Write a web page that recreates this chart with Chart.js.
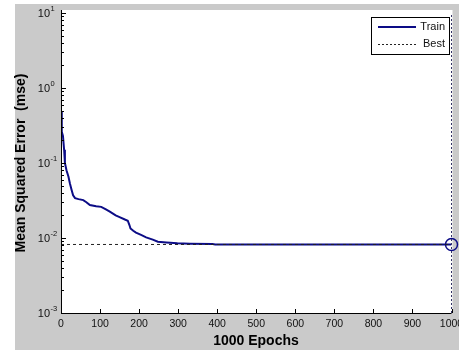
<!DOCTYPE html>
<html>
<head>
<meta charset="utf-8">
<script src="https://cdn.jsdelivr.net/npm/chart.js@4.4.0/dist/chart.umd.min.js"></script>
<style>
  html, body { margin: 0; padding: 0; background: #ffffff; }
  #c { display: block; }
</style>
</head>
<body>
<canvas id="c" width="459" height="350"></canvas>
<script>
// ---- data ----
const epochs   = [0, 2, 5, 8, 10, 14, 19, 23, 27, 31, 36, 45, 57, 65, 74, 90, 103, 115, 125, 140, 150, 165, 171, 175, 178, 185, 192, 205, 218, 235, 248, 270, 298, 330, 388, 395, 420, 500, 700, 1000];
const trainMse = [0.48, 0.26, 0.23, 0.15, 0.10, 0.08, 0.066, 0.053, 0.044, 0.037, 0.034, 0.033, 0.032, 0.030, 0.0275, 0.0265, 0.026, 0.024, 0.0225, 0.020, 0.019, 0.0175, 0.017, 0.015, 0.0134, 0.0125, 0.0118, 0.011, 0.0102, 0.0095, 0.0089, 0.0087, 0.0085, 0.0084, 0.0083, 0.0082, 0.0082, 0.0082, 0.0082, 0.0082];
const bestMse = 0.0082;
const bestEpoch = 1000;
const xTickValues = [0, 100, 200, 300, 400, 500, 600, 700, 800, 900, 1000];
const yTickValues = [10, 1, 0.1, 0.01, 0.001];
const yTickExponents = ['1', '0', '-1', '-2', '-3'];
const seriesLabels = ['Train', 'Best'];
const xTitle = '1000 Epochs';
const yTitle = 'Mean Squared Error  (mse)';

const NAVY = '#0c0c86';
const FONT = '"Liberation Sans", Arial, sans-serif';

const trainPoints = epochs.map((e, i) => ({ x: e, y: trainMse[i] }));

const decor = {
  id: 'decor',
  beforeDraw(chart) {
    const ctx = chart.ctx, ca = chart.chartArea;
    ctx.save();
    ctx.fillStyle = '#ffffff';
    ctx.fillRect(0, 0, chart.width, chart.height);
    ctx.fillStyle = '#cacaca';
    ctx.fillRect(15, 4, chart.width - 15, chart.height - 4);
    ctx.fillStyle = '#ffffff';
    ctx.fillRect(ca.left, 10, ca.right - ca.left + 1, ca.bottom - 10);
    ctx.restore();
  },
  afterDraw(chart) {
    const ctx = chart.ctx, ca = chart.chartArea;
    const xs = chart.scales.x, ys = chart.scales.y;
    ctx.save();
    ctx.strokeStyle = '#000';
    ctx.lineWidth = 1;
    // axis lines
    ctx.beginPath();
    ctx.moveTo(ca.left + 0.5, 10);
    ctx.lineTo(ca.left + 0.5, ca.bottom + 0.5);
    ctx.lineTo(ca.right, ca.bottom + 0.5);
    ctx.stroke();
    // y ticks (major + minor), inward
    ctx.beginPath();
    for (let d = -3; d <= 1; d++) {
      const yp = Math.round(ys.getPixelForValue(Math.pow(10, d))) + 0.5;
      ctx.moveTo(ca.left, yp); ctx.lineTo(ca.left + 5, yp);
      if (d < 1) {
        for (let m = 2; m <= 9; m++) {
          const ym = Math.round(ys.getPixelForValue(m * Math.pow(10, d))) + 0.5;
          ctx.moveTo(ca.left, ym); ctx.lineTo(ca.left + 3, ym);
        }
      }
    }
    // x ticks, inward
    xTickValues.forEach(v => {
      const xp = Math.round(xs.getPixelForValue(v)) + 0.5;
      ctx.moveTo(xp, ca.bottom); ctx.lineTo(xp, ca.bottom - 4);
    });
    ctx.stroke();

    // x tick labels
    ctx.fillStyle = '#111';
    ctx.font = '10.5px ' + FONT;
    ctx.textAlign = 'center';
    ctx.textBaseline = 'middle';
    xTickValues.forEach(v => {
      ctx.fillText(String(v), xs.getPixelForValue(v), ca.bottom + 11);
    });
    // y tick labels with superscript exponents
    yTickValues.forEach((v, i) => {
      const yp = ys.getPixelForValue(v);
      ctx.font = '11px ' + FONT;
      ctx.textAlign = 'right';
      ctx.textBaseline = 'middle';
      ctx.fillText('10', 50, yp + 1);
      ctx.font = '7.5px ' + FONT;
      ctx.textAlign = 'left';
      ctx.fillText(yTickExponents[i], 50.5, yp - 4);
    });
    // axis titles
    ctx.font = 'bold 14px ' + FONT;
    ctx.textAlign = 'center';
    ctx.textBaseline = 'middle';
    ctx.fillStyle = '#000';
    ctx.fillText(xTitle, 256, 341);
    ctx.save();
    ctx.translate(21, (ca.top + ca.bottom) / 2);
    ctx.rotate(-Math.PI / 2);
    ctx.fillText(yTitle, 0, 0);
    ctx.restore();

    // legend
    const lx = 371.5, ly = 17.5, lw = 78, lh = 37;
    ctx.fillStyle = '#fff';
    ctx.fillRect(lx, ly, lw, lh);
    ctx.strokeStyle = '#000';
    ctx.lineWidth = 1;
    ctx.strokeRect(lx, ly, lw, lh);
    ctx.strokeStyle = NAVY;
    ctx.lineWidth = 2;
    ctx.beginPath(); ctx.moveTo(378, 27); ctx.lineTo(416, 27); ctx.stroke();
    ctx.strokeStyle = '#222';
    ctx.lineWidth = 1;
    ctx.setLineDash([2, 2]);
    ctx.beginPath(); ctx.moveTo(378, 44.5); ctx.lineTo(416, 44.5); ctx.stroke();
    ctx.setLineDash([]);
    ctx.fillStyle = '#111';
    ctx.font = '11px ' + FONT;
    ctx.textAlign = 'right';
    ctx.textBaseline = 'middle';
    ctx.fillText(seriesLabels[0], 445, 27);
    ctx.fillText(seriesLabels[1], 445, 44);
    ctx.restore();
  }
};

new Chart(document.getElementById('c'), {
  type: 'line',
  data: {
    datasets: [
      {
        label: 'Best vertical',
        data: [{ x: bestEpoch, y: 0.001 }, { x: bestEpoch, y: 10 }],
        borderColor: '#333366',
        borderWidth: 1,
        borderDash: [2, 2],
        pointRadius: 0,
        clip: false
      },
      {
        label: seriesLabels[1],
        data: [{ x: 0, y: bestMse }, { x: 1000, y: bestMse }],
        borderColor: '#222',
        borderWidth: 1,
        borderDash: [3, 3],
        pointRadius: 0
      },
      {
        label: seriesLabels[0],
        data: trainPoints,
        borderColor: NAVY,
        borderWidth: 2,
        pointRadius: 0,
        tension: 0
      },
      {
        label: 'Best point',
        data: [{ x: bestEpoch, y: bestMse }],
        showLine: false,
        pointRadius: 6,
        pointStyle: 'circle',
        pointBorderColor: NAVY,
        pointBackgroundColor: 'rgba(0,0,0,0)',
        pointBorderWidth: 1.5,
        clip: false
      }
    ]
  },
  options: {
    responsive: false,
    animation: false,
    devicePixelRatio: 1,
    layout: { padding: { top: 13, right: 5, left: 0, bottom: 0 } },
    plugins: { legend: { display: false }, tooltip: { enabled: false } },
    scales: {
      x: {
        type: 'linear', min: 0, max: 1000,
        grid: { display: false }, border: { display: false },
        ticks: { display: false },
        afterFit: s => { s.height = 37; s.paddingLeft = 0; s.paddingRight = 0; }
      },
      y: {
        type: 'logarithmic', min: 0.001, max: 10,
        grid: { display: false }, border: { display: false },
        ticks: { display: false },
        afterFit: s => { s.width = 61; s.paddingTop = 0; s.paddingBottom = 0; }
      }
    }
  },
  plugins: [decor]
});
</script>
</body>
</html>
